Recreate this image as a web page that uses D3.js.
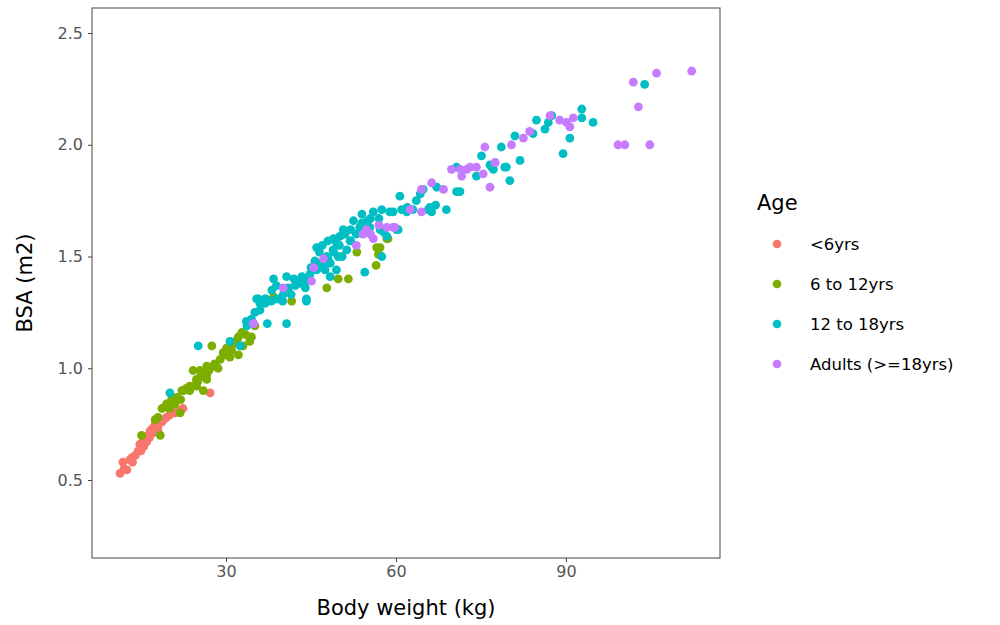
<!DOCTYPE html>
<html><head><meta charset="utf-8">
<script src="https://cdn.jsdelivr.net/npm/d3@7"></script>
<style>body{margin:0;background:#fff}text{font-family:"DejaVu Sans",sans-serif}</style>
</head><body>
<svg id="c" width="1000" height="625"></svg>
<script>
const categories = ["<6yrs","6 to 12yrs","12 to 18yrs","Adults (>=18yrs)"];
const colors = ["#F8766D","#7CAE00","#00BFC4","#C77CFF"];
const xTicks = [30,60,90];
const yTicks = [0.5,1.0,1.5,2.0,2.5];
// [weight kg, BSA m2]
const under6 = [[11.3,0.53],[12.5,0.545],[11.8,0.58],[13.4,0.60],[13.5,0.58],[14.5,0.63],[15,0.63],[14.8,0.66],[16,0.67],[15.4,0.69],[16.3,0.70],[16.6,0.72],[17,0.71],[17.5,0.75],[18,0.72],[18.7,0.76],[19.5,0.78],[20.4,0.80],[21.6,0.81],[22.4,0.82],[27.2,0.89],[12,0.55],[13,0.59],[14,0.61],[15.5,0.65],[16.5,0.69],[17,0.73],[18,0.74],[19,0.77],[20,0.79],[21,0.80]];
const age6to12 = [[15.1,0.70],[18.4,0.70],[17.5,0.77],[18.0,0.78],[18.7,0.82],[20.4,0.86],[21.3,0.87],[22.2,0.90],[23.6,0.90],[24.8,0.92],[26.0,0.90],[24.8,0.94],[26.6,0.95],[21.9,0.80],[19.5,0.84],[22.5,0.90],[23.6,0.92],[24.8,0.95],[24.2,0.99],[25.4,0.99],[26.6,1.01],[27.8,1.01],[28.6,1.00],[25.4,0.96],[26.6,0.97],[29.5,1.07],[30.1,1.09],[30.7,1.05],[32.2,1.06],[31.3,1.11],[32.2,1.14],[34.2,1.12],[34.5,1.14],[32.8,1.16],[27.5,1.10],[39.8,1.31],[41.6,1.30],[47.8,1.36],[49.8,1.40],[51.6,1.40],[56.6,1.54],[56.9,1.51],[53.1,1.52],[38.4,1.32],[35.1,1.19],[58.4,1.58],[58.6,1.58],[57.2,1.54],[56.5,1.46],[26,0.98],[27,0.99],[28,1.02],[29,1.04],[30,1.06],[31,1.08],[25,0.94],[23,0.91],[22,0.86],[21,0.84],[20,0.82],[33,1.10],[33.5,1.15],[32,1.13]];
const age12to18 = [[20.1,0.89],[25.1,1.10],[30.7,1.12],[32.5,1.10],[33.7,1.19],[35.1,1.25],[35.7,1.31],[37.3,1.20],[40.7,1.20],[36.9,1.29],[44.2,1.30],[33.6,1.21],[35.4,1.31],[36.9,1.31],[38.1,1.35],[38.4,1.40],[40.1,1.33],[41.0,1.36],[42.2,1.37],[43.4,1.41],[44.2,1.31],[44.8,1.42],[46.0,1.54],[45.7,1.48],[47.5,1.44],[47.8,1.50],[48.4,1.47],[48.9,1.53],[49.5,1.56],[50.1,1.59],[50.7,1.62],[49.5,1.44],[48.4,1.41],[49.8,1.50],[51.3,1.53],[51.9,1.57],[54.5,1.43],[53.6,1.63],[55.4,1.63],[57.2,1.62],[58.4,1.59],[60.1,1.62],[56.0,1.70],[46.0,1.47],[44.2,1.39],[40.7,1.41],[38.9,1.37],[36.0,1.29],[57.5,1.71],[59.5,1.70],[60.7,1.77],[61.0,1.71],[61.9,1.70],[63.6,1.75],[64.8,1.80],[65.7,1.71],[66.3,1.70],[67.2,1.81],[68.9,1.71],[70.7,1.79],[70.7,1.90],[74.2,1.86],[76.9,1.90],[79.2,1.90],[80.1,1.84],[57.8,1.61],[60.4,1.62],[57.5,1.50],[64.3,1.78],[71.3,1.79],[75.1,1.95],[76.6,1.91],[77.2,1.89],[78.6,1.99],[79.5,1.90],[81.0,2.04],[81.9,1.93],[84.2,2.05],[84.8,2.11],[86.3,2.07],[86.9,2.10],[87.5,2.13],[89.5,1.96],[90.7,2.03],[92.8,2.16],[92.8,2.12],[94.8,2.10],[103.9,2.27],[52.5,1.66],[54.0,1.69],[55.0,1.66],[58.9,1.70],[46.5,1.52],[47,1.55],[48,1.57],[49,1.58],[50,1.55],[51,1.60],[52,1.62],[53,1.60],[52,1.57],[50.5,1.50],[49,1.52],[47,1.46],[46,1.44],[45,1.45],[48,1.49],[37,1.31],[38,1.30],[39,1.31],[40,1.30],[41.5,1.33],[43,1.38],[44,1.36],[42,1.40],[36,1.26],[34.5,1.22],[54,1.65],[55.5,1.67],[57,1.67],[62,1.72],[63,1.71],[66,1.72],[67,1.73]];
const adults = [[34.9,1.20],[34.8,1.20],[40.1,1.36],[47.2,1.49],[54.8,1.62],[54.2,1.60],[58.4,1.63],[59.5,1.63],[45.1,1.39],[59.8,1.63],[62.5,1.71],[64.5,1.70],[64.5,1.80],[66.3,1.83],[68.4,1.80],[69.8,1.89],[71.6,1.86],[72.5,1.89],[74.2,1.90],[75.4,1.87],[76.6,1.81],[77.5,1.92],[75.7,1.99],[77.5,1.92],[80.4,2.00],[82.5,2.03],[83.6,2.06],[87.2,2.13],[88.9,2.11],[90.1,2.10],[90.7,2.08],[91.3,2.12],[73.1,1.90],[71.4,1.89],[99.2,2.00],[100.4,2.00],[104.8,2.00],[102.8,2.17],[101.9,2.28],[106.0,2.32],[112.2,2.33],[55.5,1.60],[56,1.58],[57,1.64],[53,1.55],[45.5,1.45]];
const groups = [under6, age6to12, age12to18, adults];

const svg = d3.select("#c");
const L=92,R=720,T=8,B=558;
const x = d3.scaleLinear().domain([6.35,117.2]).range([L,R]);
const y = d3.scaleLinear().domain([0.151,2.612]).range([B,T]);

groups.forEach((g,i)=>{
  svg.append("g").selectAll("circle").data(g).join("circle")
    .attr("cx",d=>x(d[0])).attr("cy",d=>y(d[1])).attr("r",4.4)
    .attr("fill",colors[i]);
});

svg.append("rect").attr("x",L).attr("y",T).attr("width",R-L).attr("height",B-T)
  .attr("fill","none").attr("stroke","#555").attr("stroke-width",1.1);

const xa = svg.append("g").attr("transform",`translate(0,${B})`)
  .call(d3.axisBottom(x).tickValues(xTicks).tickSize(4).tickPadding(4).tickFormat(d3.format("d")));
const ya = svg.append("g").attr("transform",`translate(${L},0)`)
  .call(d3.axisLeft(y).tickValues(yTicks).tickSize(4).tickPadding(5).tickFormat(d3.format(".1f")));
[xa,ya].forEach(a=>{
  a.select(".domain").remove();
  a.selectAll(".tick line").attr("stroke","#444");
  a.selectAll(".tick text").attr("fill","#555").style("font-size","16px").style("font-family","DejaVu Sans");
});

svg.append("text").attr("x",(L+R)/2).attr("y",615).attr("text-anchor","middle")
  .style("font-size","21px").attr("fill","#000").text("Body weight (kg)");
svg.append("text").attr("transform",`translate(32,${(T+B)/2}) rotate(-90)`).attr("text-anchor","middle")
  .style("font-size","21px").attr("fill","#000").text("BSA (m2)");

svg.append("text").attr("x",757).attr("y",210).style("font-size","21px").attr("fill","#000").text("Age");
categories.forEach((c,i)=>{
  const yy = 244 + i*40;
  svg.append("circle").attr("cx",777).attr("cy",yy).attr("r",4.3).attr("fill",colors[i]);
  svg.append("text").attr("x",810).attr("y",yy).attr("dy","0.35em").style("font-size","16.5px").attr("fill","#000").text(c);
});
</script>
</body></html>
